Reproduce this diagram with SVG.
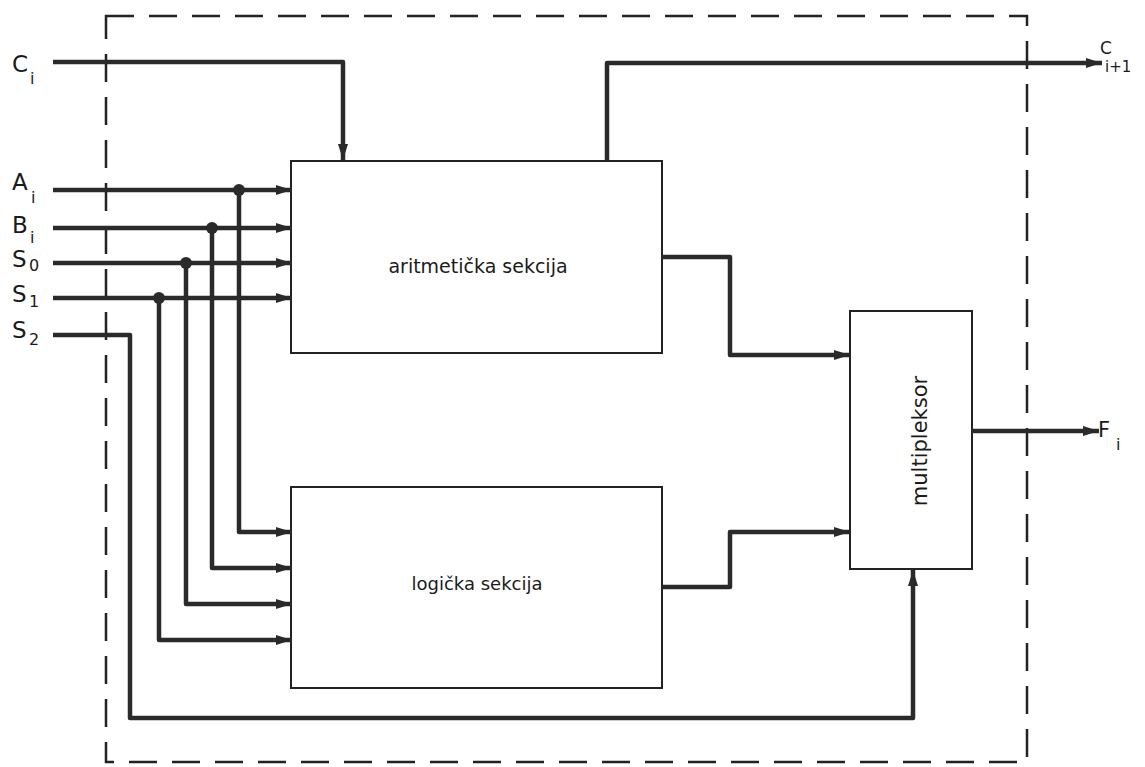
<svg xmlns="http://www.w3.org/2000/svg" width="1145" height="767" viewBox="0 0 1145 767">
<style>
.box{fill:none;stroke:#222;stroke-width:2}
.dash{fill:none;stroke:#222;stroke-width:2.5;stroke-dasharray:28 15}
.wire{fill:none;stroke:#2a2a2a;stroke-width:4.5;stroke-linejoin:round}
.arr{marker-end:url(#ah)}
.lbl{font-family:"DejaVu Sans","Liberation Sans",sans-serif;fill:#1a1a1a}
.big{font-size:23px}
.sub{font-size:16px}
.txt{font-family:"DejaVu Sans","Liberation Sans",sans-serif;font-size:18px;fill:#1a1a1a}
</style>
<defs>
<marker id="ah" markerUnits="userSpaceOnUse" markerWidth="18" markerHeight="12" refX="16" refY="5" orient="auto">
<path d="M0,0 L16,5 L0,10 z" fill="#2a2a2a"/>
</marker>
</defs>
<rect width="1145" height="767" fill="#fff"/>
<rect class="dash" x="106" y="16" width="921" height="746"/>

<g id="arith">
<rect class="box" x="291" y="161" width="371" height="192"/>
<text class="txt" x="478" y="273" text-anchor="middle" style="font-size:19px">aritmetička sekcija</text>
</g>
<g id="logic">
<rect class="box" x="291" y="487" width="371" height="201"/>
<text class="txt" x="477" y="590" text-anchor="middle">logička sekcija</text>
</g>
<g id="mux">
<rect class="box" x="850" y="311" width="122" height="258"/>
<text class="txt" transform="translate(927,441) rotate(-90)" text-anchor="middle" style="font-size:21px">multipleksor</text>
</g>

<g id="labels">
<text class="lbl big" x="12" y="72">C</text><text class="lbl sub" x="30" y="84">i</text>
<text class="lbl big" x="12" y="190">A</text><text class="lbl sub" x="31" y="203">i</text>
<text class="lbl big" x="12" y="233">B</text><text class="lbl sub" x="30" y="243">i</text>
<text class="lbl big" x="12" y="267">S</text><text class="lbl sub" x="29" y="271">0</text>
<text class="lbl big" x="12" y="302">S</text><text class="lbl sub" x="29" y="307">1</text>
<text class="lbl big" x="12" y="338">S</text><text class="lbl sub" x="29" y="345">2</text>
<text class="lbl" style="font-size:17px" x="1100" y="54">C</text><text class="lbl" style="font-size:15px" x="1105" y="72">i+1</text>
<text class="lbl" style="font-size:21px" x="1098" y="437">F</text><text class="lbl sub" x="1116" y="450">i</text>
</g>

<g id="connectors">
<path class="wire arr" d="M53,62 H343 V160"/>
<path class="wire arr" d="M607,160 V63 H1102"/>
<path class="wire arr" d="M53,190 H292"/>
<path class="wire arr" d="M53,228 H292"/>
<path class="wire arr" d="M53,263 H292"/>
<path class="wire arr" d="M53,298 H292"/>
<path class="wire arr" d="M239,190 V532 H292"/>
<path class="wire arr" d="M212,228 V568 H292"/>
<path class="wire arr" d="M186,263 V604 H292"/>
<path class="wire arr" d="M159,298 V640 H292"/>
<path class="wire arr" d="M53,335 H130 V718 H913 V570"/>
<path class="wire arr" d="M662,257 H730 V355 H850"/>
<path class="wire arr" d="M662,587 H730 V532 H850"/>
<path class="wire arr" d="M972,431 H1099"/>
<g fill="#2a2a2a">
<circle cx="239" cy="190" r="6"/>
<circle cx="212" cy="228" r="6"/>
<circle cx="186" cy="263" r="6"/>
<circle cx="159" cy="298" r="6"/>
</g>
</g>
</svg>
